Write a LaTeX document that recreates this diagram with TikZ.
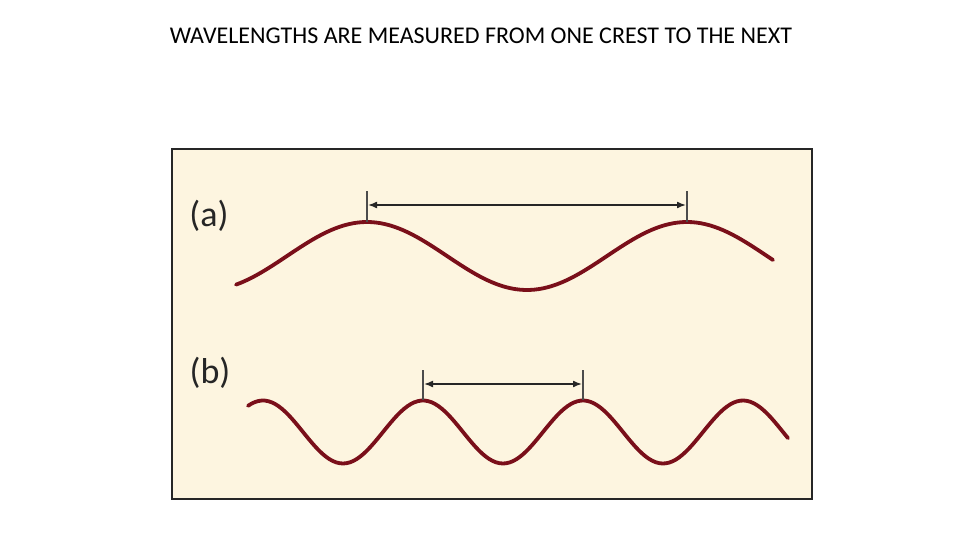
\documentclass[tikz,border=0pt]{standalone}
\usepackage{fontspec}
\setmainfont{Carlito}
\usetikzlibrary{positioning,arrows.meta}
\definecolor{cream}{HTML}{FDF5E0}
\definecolor{wavered}{HTML}{7A0F1A}

\begin{document}
\begin{tikzpicture}[x=1pt,y=-1pt,
    wave/.style={wavered,line width=3.8pt,line cap=round},
    tick/.style={draw=black!70,line width=2.2pt},
    span/.style={{Latex[length=9pt,width=7pt]}-{Latex[length=9pt,width=7pt]},line width=1.6pt,black!85},
    panel/.style={font=\fontsize{36}{40}\selectfont,text=black!85}]
  \fill[white] (0,0) rectangle (960,540);
  \useasboundingbox (0,0) rectangle (960,540);

  \node (title) at (481,36) {\fontsize{24}{28}\selectfont WAVELENGTHS ARE MEASURED FROM ONE CREST TO THE NEXT};

  \draw[fill=cream,draw=black!85,line width=2.5pt] (172,149) rectangle (812,499);

  % (a) long wave
  \node[panel] (la) at (209,216) {(a)};
  \draw[wave] plot[domain=236:773,samples=120] (\x,{256-34*cos((\x-367)/320*360)});
  \coordinate (a1) at (367,222);
  \coordinate (a1t) at (367,191);
  \coordinate (a2) at (687,222);
  \coordinate (a2t) at (687,191);
  \draw[tick] (a1) -- (a1t);
  \draw[tick] (a2) -- (a2t);
  \coordinate (a1m) at (368,205);
  \coordinate (a2m) at (686,205);
  \draw[span] (a1m) -- (a2m);

  % (b) short wave
  \node[panel] (lb) at (210,373) {(b)};
  \draw[wave] plot[domain=248:788,samples=160] (\x,{432-31.5*cos((\x-423)/160*360)});
  \coordinate (b1) at (423,400);
  \coordinate (b1t) at (423,370);
  \coordinate (b2) at (583,400);
  \coordinate (b2t) at (583,370);
  \draw[tick] (b1) -- (b1t);
  \draw[tick] (b2) -- (b2t);
  \coordinate (b1m) at (424,384);
  \coordinate (b2m) at (582,384);
  \draw[span] (b1m) -- (b2m);
\end{tikzpicture}
\end{document}
